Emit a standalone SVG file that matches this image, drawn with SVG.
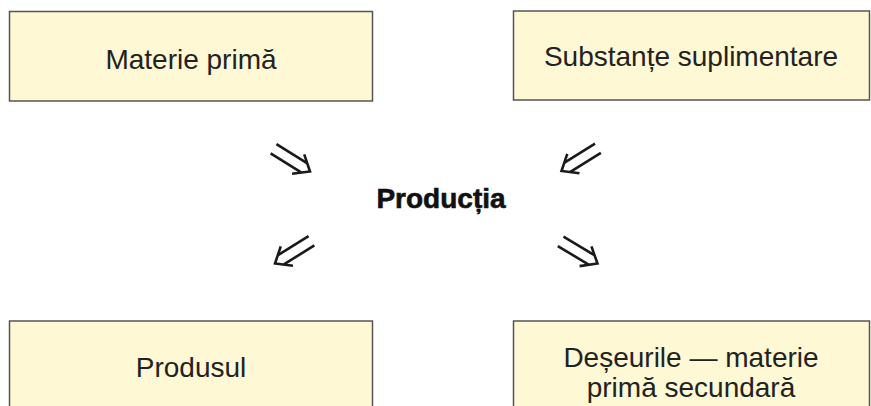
<svg xmlns="http://www.w3.org/2000/svg" width="871" height="406" viewBox="0 0 871 406">
<style>
.box{fill:#fff8d4;stroke:#555;stroke-width:1.5}
.t{font-family:"Liberation Sans",Arial,sans-serif;font-size:28px;fill:#222;text-anchor:middle}
.b{font-family:"Liberation Sans",Arial,sans-serif;font-size:28px;font-weight:bold;fill:#111;stroke:#111;stroke-width:0.6;text-anchor:middle}
.ar{fill:none;stroke:#1a1a1a;stroke-width:2.6}
</style>
<defs>
<g id="arrow">
<line x1="-43" y1="-5.5" x2="-7" y2="-5.5"/>
<line x1="-43" y1="5.5" x2="-7" y2="5.5"/>
<polyline points="-14,-11.5 0,0 -14,11.5"/>
</g>
</defs>
<rect width="871" height="406" fill="#fff"/>
<g id="materie">
<rect class="box" x="9.5" y="11.5" width="363" height="89.5"/>
<text class="t" x="191" y="69">Materie primă</text>
</g>
<g id="substante">
<rect class="box" x="513.5" y="11" width="356" height="89"/>
<text class="t" x="691" y="66">Substanțe suplimentare</text>
</g>
<g id="productia">
<text class="b" x="441" y="208">Producția</text>
</g>
<g id="produsul">
<rect class="box" x="9.5" y="321" width="363" height="95"/>
<text class="t" x="191" y="377">Produsul</text>
</g>
<g id="deseurile">
<rect class="box" x="513.5" y="321" width="356" height="95"/>
<text class="t" x="691" y="367">Deșeurile — materie</text>
<text class="t" x="691" y="397">primă secundară</text>
</g>
<g id="connectors" class="ar">
<use href="#arrow" transform="translate(310,171.5) rotate(32)"/>
<use href="#arrow" transform="translate(561.5,171) rotate(148)"/>
<use href="#arrow" transform="translate(275,263.5) rotate(148)"/>
<use href="#arrow" transform="translate(597.5,263.5) rotate(31)"/>
</g>
</svg>
